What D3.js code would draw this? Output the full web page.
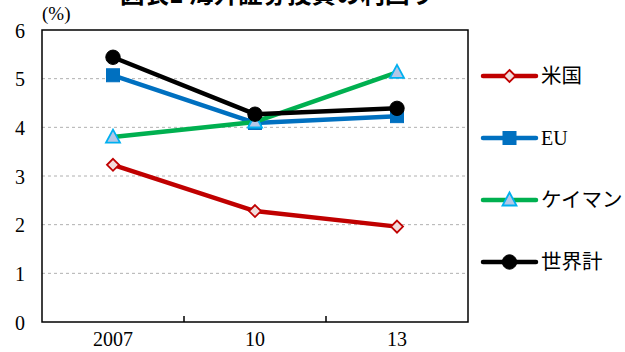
<!DOCTYPE html>
<html><head><meta charset="utf-8">
<script src="https://cdn.jsdelivr.net/npm/d3@7"></script>
<style>body{margin:0;background:#fff}svg{display:block}</style>
</head><body>
<script>
const title = "図表1 海外証券投資の利回り";
const unitLabel = "(%)";
const categories = ["2007", "10", "13"];
const seriesNames = ["米国", "EU", "ケイマン", "世界計"];
const usValues = [3.23, 2.28, 1.96];
const euValues = [5.07, 4.09, 4.23];
const caymanValues = [3.80, 4.11, 5.13];
const worldValues = [5.44, 4.27, 4.39];
const yTicks = [0, 1, 2, 3, 4, 5, 6];

const series = [
  {name: seriesNames[0], values: usValues, color: "#c00000", marker: "diamond", fill: "#f2dcdb", stroke: "#c00000"},
  {name: seriesNames[1], values: euValues, color: "#0070c0", marker: "square", fill: "#0070c0", stroke: "#0070c0"},
  {name: seriesNames[2], values: caymanValues, color: "#00b050", marker: "triangle", fill: "#b4c7e7", stroke: "#00b0f0"},
  {name: seriesNames[3], values: worldValues, color: "#000000", marker: "circle", fill: "#000000", stroke: "#000000"}
];

const W = 625, H = 352;
const m = {left: 42, right: 468, top: 30, bottom: 322};
const serif = "'Liberation Serif','DejaVu Serif',serif";
const jp = "'Noto Sans CJK JP','Noto Sans CJK SC',sans-serif";

const svg = d3.select("body").append("svg").attr("width", W).attr("height", H);

const x = d3.scaleBand().domain(categories).range([m.left, m.right]);
const y = d3.scaleLinear().domain([0, 6]).range([m.bottom, m.top]);

// title (cut off at top)
svg.append("text").attr("x", 277).attr("y", 3).attr("text-anchor", "middle")
  .attr("font-family", jp).attr("font-weight", "bold").attr("font-size", 24.5).text(title);

// gridlines
svg.append("g").selectAll("line").data(yTicks.filter(d => d > 0 && d < 6)).join("line")
  .attr("x1", m.left).attr("x2", m.right).attr("y1", d => y(d)).attr("y2", d => y(d))
  .attr("stroke", "#b0b0b0").attr("stroke-width", 1).attr("stroke-dasharray", "3,3");

// frame
svg.append("rect").attr("x", m.left).attr("y", m.top).attr("width", m.right - m.left).attr("height", m.bottom - m.top)
  .attr("fill", "none").attr("stroke", "#000").attr("stroke-width", 1.5);

// y axis labels
svg.append("g").selectAll("text").data(yTicks).join("text")
  .attr("x", 25).attr("y", d => y(d) + 7.5).attr("text-anchor", "end")
  .attr("font-family", serif).attr("font-size", 20).text(d => d);
svg.append("text").attr("x", 42).attr("y", 20).attr("font-family", serif).attr("font-size", 19).text(unitLabel);

// x axis ticks (between categories)
const tickPos = categories.slice(1).map(c => x(c));
svg.append("g").selectAll("line").data(tickPos).join("line")
  .attr("x1", d => d).attr("x2", d => d).attr("y1", m.bottom).attr("y2", m.bottom - 6)
  .attr("stroke", "#000").attr("stroke-width", 1.5);
svg.append("g").selectAll("text").data(categories).join("text")
  .attr("x", d => x(d) + x.bandwidth() / 2).attr("y", 346).attr("text-anchor", "middle")
  .attr("font-family", serif).attr("font-size", 20).text(d => d);

function drawMarker(g, type, cx, cy, fill, stroke) {
  if (type === "diamond") {
    g.append("path").attr("d", `M${cx},${cy-6}L${cx+6},${cy}L${cx},${cy+6}L${cx-6},${cy}Z`)
      .attr("fill", fill).attr("stroke", stroke).attr("stroke-width", 1.8);
  } else if (type === "square") {
    g.append("rect").attr("x", cx - 6.5).attr("y", cy - 6.5).attr("width", 13).attr("height", 13)
      .attr("fill", fill).attr("stroke", stroke).attr("stroke-width", 1);
  } else if (type === "triangle") {
    g.append("path").attr("d", `M${cx},${cy-7.5}L${cx+7},${cy+5.5}L${cx-7},${cy+5.5}Z`)
      .attr("fill", fill).attr("stroke", stroke).attr("stroke-width", 1.8);
  } else {
    g.append("circle").attr("cx", cx).attr("cy", cy).attr("r", 7.2).attr("fill", fill).attr("stroke", stroke);
  }
}

const line = d3.line().x((d, i) => x(categories[i]) + x.bandwidth() / 2).y(d => y(d));
series.forEach(s => {
  const g = svg.append("g");
  g.append("path").datum(s.values).attr("d", line).attr("fill", "none")
    .attr("stroke", s.color).attr("stroke-width", 4.5).attr("stroke-linejoin", "round");
  s.values.forEach((v, i) => drawMarker(g, s.marker, x(categories[i]) + x.bandwidth() / 2, y(v), s.fill, s.stroke));
});

// legend
const legY = [76, 138, 200, 262];
series.forEach((s, i) => {
  const g = svg.append("g");
  g.append("line").attr("x1", 483).attr("x2", 536).attr("y1", legY[i]).attr("y2", legY[i])
    .attr("stroke", s.color).attr("stroke-width", 4.5).attr("stroke-linecap", "round");
  drawMarker(g, s.marker, 509.5, legY[i], s.fill, s.stroke);
  const isLatin = /^[A-Za-z]/.test(s.name);
  g.append("text").attr("x", 541).attr("y", legY[i] + 7)
    .attr("font-family", isLatin ? serif : jp).attr("font-size", isLatin ? 20 : 20.5).text(s.name);
});
</script>
</body></html>
